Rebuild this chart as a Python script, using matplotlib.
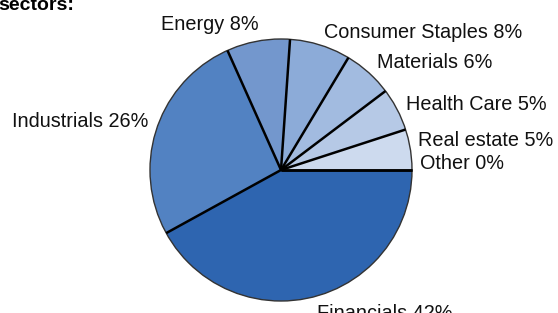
import numpy as np
import matplotlib.pyplot as plt
from matplotlib.patches import Circle

# sector weights (%), counter-clockwise from 3 o'clock
sectors = ['Other', 'Real estate', 'Health Care', 'Materials',
           'Consumer Staples', 'Energy', 'Industrials', 'Financials']
weights = [0.0, 5.0, 5.3, 6.1, 7.5, 7.8, 26.3, 42.0]
shown = ['0%', '5%', '5%', '6%', '8%', '8%', '26%', '42%']
colors = ['#dfe7f3', '#cddaee', '#b6c9e6', '#a2bbe0', '#8cabd8',
          '#7397cd', '#5282c2', '#2e65b0']

plt.rcParams['font.family'] = ['Liberation Sans', 'DejaVu Sans']

fig = plt.figure(figsize=(5.58, 3.13), dpi=100)
ax = fig.add_axes([0, 0, 1, 1])

r = 131.0  # pie radius in pixels

labels = [f'{s} {p}' for s, p in zip(sectors, shown)]
wedges, texts = ax.pie(weights, labels=labels, colors=colors,
                       startangle=0, counterclock=True,
                       labeldistance=1.1,
                       wedgeprops=dict(linewidth=0),
                       textprops=dict(fontsize=14.3, color='#111111'))

# small label nudges (pixels, +y is up) to match the original layout
nudges = {'Other': (-5, 7), 'Real estate': (-5, 7),
          'Health Care': (-3, -1), 'Energy': (3, 4),
          'Industrials': (4, 3), 'Financials': (0, -4)}
for t, s in zip(texts, sectors):
    if s in nudges:
        x, y = t.get_position()
        dx, dy = nudges[s]
        t.set_position((x + dx / r, y + dy / r))

# radial separators and thin outline
cum = np.cumsum([0] + weights) / np.sum(weights) * 2 * np.pi
for a in np.unique(np.round(cum[1:], 6)):
    ax.plot([0, np.cos(a)], [0, np.sin(a)], color='black', lw=1.8,
            solid_capstyle='butt')
ax.add_patch(Circle((0, 0), 1, fill=False, edgecolor='#333333', lw=1.0))

# place pie: centre at (281,170) px
ax.set_aspect('auto')
ax.set_xlim(-281 / r, (558 - 281) / r)
ax.set_ylim(-(313 - 170) / r, 170 / r)
ax.axis('off')

fig.text(-0.003, 1 - 10 / 313, 'sectors:', fontsize=14,
         fontweight='bold', va='baseline', ha='left')

fig.savefig('out.png', dpi=100)
